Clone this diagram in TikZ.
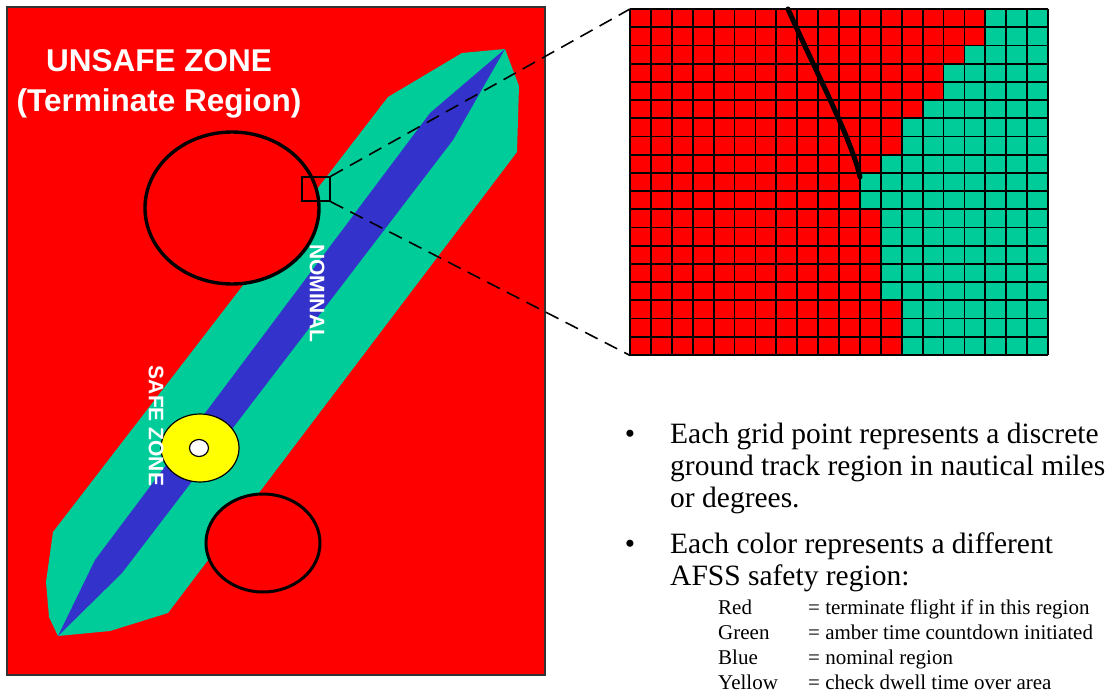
\documentclass[tikz,border=0pt]{standalone}
\usepackage{fontspec}
\setmainfont{Liberation Serif}
\newfontfamily\arialfont{Liberation Sans}
\usepackage{xcolor}
\usepackage{tikz}
\usetikzlibrary{positioning, calc}
\definecolor{afssred}{RGB}{255,0,0}
\definecolor{afssgreen}{RGB}{0,204,153}
\definecolor{afssblue}{RGB}{51,51,204}
\definecolor{afssyellow}{RGB}{255,255,0}
\tikzset{
  zonering/.style={draw=black, line width=3.4pt, fill=afssred},
  zonetxt/.style={text=white, font=\arialfont\bfseries\fontsize{21}{25}\selectfont, inner sep=0pt},
  zoomln/.style={draw=black, line width=1.6pt, dash pattern=on 14pt off 8pt},
  gridln/.style={draw=black, line width=1.8pt},
  track/.style={draw=black, line width=5pt, line cap=round},
  bultxt/.style={font=\fontsize{29.5}{32}\selectfont, align=left, inner sep=0pt},
  keytxt/.style={font=\fontsize{21}{24.8}\selectfont, align=left, inner sep=0pt}
}

\begin{document}
\begin{tikzpicture}[x=1pt, y=1pt]
\useasboundingbox (0,0) rectangle (1109,-693);
% ---------- ground track panel ----------
\filldraw[fill=afssred, draw=black!80, line width=1.4pt] (7,-7) rectangle (545,-675);
\fill[afssgreen] (505,-49) -- (519,-86) -- (517,-152) -- (168,-613) -- (110,-631)
  -- (58,-636) -- (49,-617) -- (46,-582) -- (53,-532) -- (388,-97) -- (462,-53) -- cycle;
\fill[afssblue] (505,-49) -- (453,-140) -- (122,-573) -- (58,-636) -- (95,-560)
  -- (430,-113) -- cycle;
\draw[zonering] (232,-208) ellipse [x radius=87, y radius=76];
\draw[zonering, line width=3pt] (263,-543) ellipse [x radius=57, y radius=49];
\filldraw[fill=afssyellow, draw=black, line width=1.2pt] (200,-448) ellipse [x radius=39, y radius=34];
\filldraw[fill=white, draw=black, line width=1.2pt] (199,-448) ellipse [x radius=9.5, y radius=8.5];
% ---------- zone labels ----------
\node[zonetxt, align=center, font=\arialfont\bfseries\fontsize{31.5}{40}\selectfont]
  (unsafe) at (159,-84) {UNSAFE ZONE\\(Terminate Region)};
\node[zonetxt, rotate=-90] (nominal) at (317,-293) {NOMINAL};
\node[zonetxt, rotate=-90] (safe) at (156,-426) {SAFE ZONE};
% ---------- zoomed grid ----------
\def\cw{20.9}
\def\rh{18.21}
\fill[afssgreen] (630,-9) rectangle (1048,-355);
\foreach \r/\n in {1/17,2/17,3/16,4/15,5/15,6/14,7/13,8/13,9/12,10/11,
                   11/11,12/12,13/12,14/12,15/12,16/12,17/13,18/13,19/13}
  \fill[afssred] (630,{-9-(\r-1)*\rh}) rectangle ({630+\n*\cw},{-9-\r*\rh});
\foreach \i in {0,...,20}
  \draw[gridln] ({630+\i*\cw},-9) -- ({630+\i*\cw},-355);
\foreach \j in {0,...,19}
  \draw[gridln] (630,{-9-\j*\rh}) -- (1048,{-9-\j*\rh});
\draw[track] (788,-9) .. controls (815,-70) and (852,-140) .. (860,-177);
\node[inner sep=0pt, minimum width=418, minimum height=346, anchor=north west] (grid) at (630,-9) {};
% ---------- zoom window and connectors ----------
\node[draw=black, line width=1.4pt, inner sep=0pt, minimum width=28, minimum height=24] (zoomsq) at (316,-189) {};
\draw[zoomln] (zoomsq.north east) -- (grid.north west);
\draw[zoomln] (zoomsq.south east) -- (grid.south west);
% ---------- notes (base = last line) ----------
\node[bultxt, anchor=base] (dot1) at (630,-443) {\textbullet};
\node[bultxt, anchor=base west] (pt1) at (670,-507)
  {Each grid point represents a discrete\\ground track region in nautical miles\\or degrees.};
\node[bultxt, anchor=base] (dot2) at (630,-553) {\textbullet};
\node[bultxt, anchor=base west] (pt2) at (670,-585)
  {Each color represents a different\\AFSS safety region:};
\node[keytxt, anchor=base west] (keyname) at (718,-689) {Red\\Green\\Blue\\Yellow};
\node[keytxt, anchor=base west] (keyval) at (808,-689)
  {= terminate flight if in this region\\= amber time countdown initiated\\= nominal region\\= check dwell time over area};
\end{tikzpicture}
\end{document}
